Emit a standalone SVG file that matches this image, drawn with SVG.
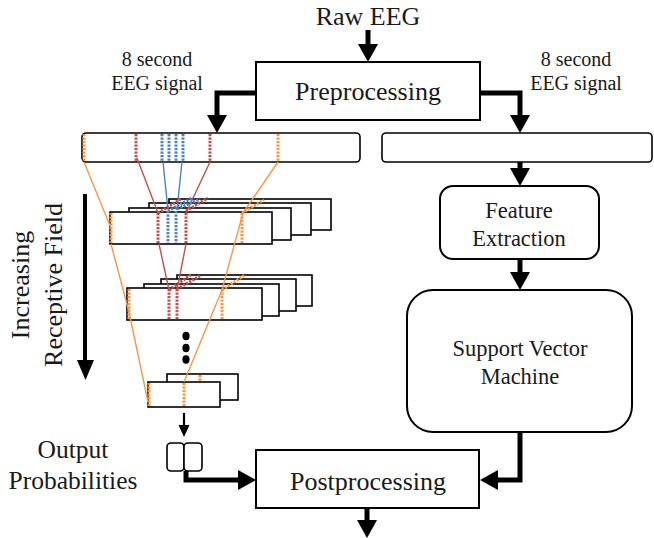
<svg xmlns="http://www.w3.org/2000/svg" width="654" height="538" viewBox="0 0 654 538">
<style>
text{font-family:"Liberation Serif","Times New Roman",serif;fill:#1a1a1a}
.box{fill:#fff;stroke:#000;stroke-width:2}
.lay{fill:#fff;stroke:#000;stroke-width:1.6}
.thick{fill:none;stroke:#000;stroke-width:5}
.o{stroke:#F79646}.r{stroke:#C0504D}.b{stroke:#4F81BD}
.sl{fill:none;stroke-width:1.4}
.dt{fill:none;stroke-width:3;stroke-dasharray:2.2 1.3}
</style>
<defs>
<marker id="ah" viewBox="0 0 18 20" refX="9" refY="10" markerWidth="18" markerHeight="20" markerUnits="userSpaceOnUse" orient="auto">
<path d="M0,0 L18,10 L0,20 Z" fill="#000"/>
</marker>
</defs>

<g id="raw-eeg"><text x="368" y="25" font-size="26" text-anchor="middle">Raw EEG</text></g>
<g id="preprocessing"><rect class="box" x="256" y="62" width="224" height="58"/><text x="368" y="100" font-size="26" text-anchor="middle">Preprocessing</text></g>
<g id="label-left"><text x="157" y="66" font-size="20" text-anchor="middle">8 second</text><text x="157" y="90" font-size="20" text-anchor="middle">EEG signal</text></g>
<g id="label-right"><text x="576" y="66" font-size="20" text-anchor="middle">8 second</text><text x="576" y="90" font-size="20" text-anchor="middle">EEG signal</text></g>
<g id="input-bar-left"><rect class="lay" x="82" y="133" width="278" height="29" rx="4"/></g>
<g id="input-bar-right"><rect class="lay" x="382" y="133" width="270" height="29" rx="4"/></g>
<g id="feature-extraction"><rect class="box" x="440" y="186" width="159" height="73" rx="13"/><text x="519" y="218" font-size="22.5" text-anchor="middle">Feature</text><text x="519" y="246" font-size="22.5" text-anchor="middle">Extraction</text></g>
<g id="svm"><rect class="box" x="407" y="290" width="225" height="142" rx="26"/><text x="520" y="356" font-size="22.5" text-anchor="middle">Support Vector</text><text x="520" y="384" font-size="22.5" text-anchor="middle">Machine</text></g>
<g id="postprocessing"><rect class="box" x="256" y="450" width="223" height="58"/><text x="368" y="490" font-size="26" text-anchor="middle">Postprocessing</text></g>
<g id="output-label"><text x="73" y="458" font-size="25.5" text-anchor="middle">Output</text><text x="73" y="489" font-size="25.5" text-anchor="middle">Probabilities</text></g>
<g id="output-box"><rect class="lay" x="167" y="443" width="17" height="28" rx="4"/><rect class="lay" x="184" y="443" width="18" height="28" rx="4"/></g>
<g id="receptive-label"><text transform="translate(29,285) rotate(-90)" font-size="26" text-anchor="middle">Increasing</text><text transform="translate(62,285) rotate(-90)" font-size="26" text-anchor="middle">Receptive Field</text>
<line x1="85" y1="194" x2="85" y2="362" stroke="#000" stroke-width="4"/><path d="M77,360 L94,360 L85.5,380 Z" fill="#000"/></g>

<g id="layer1">
<rect class="lay" x="169" y="199" width="162" height="31"/>
<rect class="lay" x="149" y="203" width="162" height="32"/>
<rect class="lay" x="129" y="208" width="162" height="32"/>
<rect class="lay" x="110" y="212" width="162" height="32"/>
</g>
<g id="layer2">
<rect class="lay" x="177" y="275" width="135" height="31"/>
<rect class="lay" x="161" y="279" width="135" height="32"/>
<rect class="lay" x="144" y="284" width="135" height="32"/>
<rect class="lay" x="127" y="288" width="135" height="32"/>
</g>
<g id="dots"><ellipse cx="186" cy="336" rx="3.6" ry="4.2"/><ellipse cx="186" cy="348" rx="3.6" ry="4.2"/><ellipse cx="186" cy="359.5" rx="3.6" ry="4.2"/></g>
<g id="layer3">
<rect class="lay" x="167" y="374" width="71" height="26"/>
<rect class="lay" x="148" y="382" width="72" height="25"/>
</g>

<g id="receptive-lines">
<line class="dt o" x1="84" y1="134" x2="84" y2="161"/>
<line class="dt o" x1="278" y1="134" x2="278" y2="161"/>
<line class="dt r" x1="136" y1="134" x2="136" y2="161"/>
<line class="dt r" x1="210" y1="134" x2="210" y2="161"/>
<line class="dt b" x1="162" y1="134" x2="162" y2="161"/>
<line class="dt b" x1="169" y1="134" x2="169" y2="161"/>
<line class="dt b" x1="176" y1="134" x2="176" y2="161"/>
<line class="dt b" x1="183" y1="134" x2="183" y2="161"/>
<line class="sl o" x1="84" y1="162" x2="111" y2="228"/>
<polyline class="sl o" points="111,244 129,312 148,402"/>
<line class="sl o" x1="278" y1="162" x2="243" y2="213"/>
<line class="sl o" x1="243" y1="213" x2="222" y2="290"/>
<line class="sl o" x1="222" y1="290" x2="184" y2="382"/>
<line class="sl r" x1="137" y1="158" x2="158" y2="213"/>
<line class="sl r" x1="210" y1="162" x2="186" y2="213"/>
<line class="sl r" x1="159" y1="244" x2="169" y2="290"/>
<line class="sl r" x1="186" y1="244" x2="177" y2="290"/>
<line class="sl b" x1="163" y1="162" x2="168" y2="210"/>
<line class="sl b" x1="182" y1="162" x2="177" y2="210"/>
<line class="dt o" x1="111" y1="213" x2="111" y2="243"/>
<line class="dt o" x1="242" y1="213" x2="242" y2="243"/>
<line class="dt r" x1="158" y1="213" x2="158" y2="243"/>
<line class="dt r" x1="186" y1="213" x2="186" y2="243"/>
<line class="dt b" x1="168" y1="211" x2="168" y2="243"/>
<line class="dt b" x1="176" y1="211" x2="176" y2="243"/>
<line class="dt o" x1="242" y1="213" x2="264" y2="200"/>
<line class="dt r" x1="158" y1="213" x2="181" y2="199"/>
<line class="dt r" x1="186" y1="211" x2="208" y2="198"/>
<line class="dt b" x1="168" y1="211" x2="192" y2="198"/>
<line class="dt b" x1="177" y1="209" x2="200" y2="199"/>
<line class="dt o" x1="129" y1="289" x2="129" y2="319"/>
<line class="dt o" x1="222" y1="289" x2="222" y2="319"/>
<line class="dt r" x1="169" y1="289" x2="169" y2="319"/>
<line class="dt r" x1="177" y1="289" x2="177" y2="319"/>
<line class="dt o" x1="222" y1="290" x2="245" y2="275"/>
<line class="dt r" x1="169" y1="290" x2="192" y2="274"/>
<line class="dt r" x1="177" y1="289" x2="200" y2="276"/>
<line class="dt o" x1="149" y1="383" x2="149" y2="406"/>
<line class="dt o" x1="184" y1="383" x2="184" y2="406"/>
<line class="dt o" x1="200" y1="375" x2="200" y2="382"/>
</g>

<g id="connectors">
<path class="thick" d="M368,30 V53" marker-end="url(#ah)"/>
<path class="thick" d="M256,93 H217 V124" marker-end="url(#ah)"/>
<path class="thick" d="M480,93 H520 V124" marker-end="url(#ah)"/>
<path class="thick" d="M520,162 V177" marker-end="url(#ah)"/>
<path class="thick" d="M520,259 V281" marker-end="url(#ah)"/>
<path class="thick" d="M520,432 V480 H489" marker-end="url(#ah)"/>
<path class="thick" d="M186,471 V480 H247" marker-end="url(#ah)"/>
<path class="thick" d="M367,508 V529" marker-end="url(#ah)"/>
<line x1="184" y1="413" x2="184" y2="427" stroke="#000" stroke-width="2.2"/>
<path d="M178.5,425 L189.5,425 L184,437 Z" fill="#000"/>
</g>
</svg>
